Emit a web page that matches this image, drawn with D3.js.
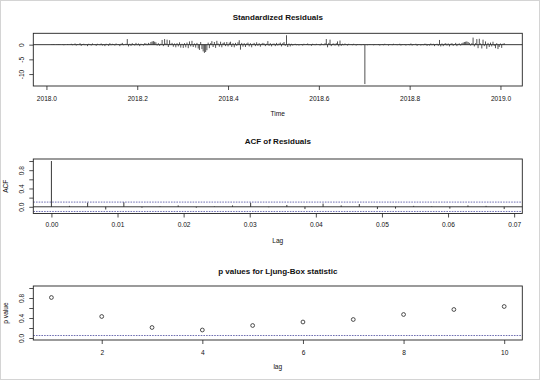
<!DOCTYPE html>
<html>
<head>
<meta charset="utf-8">
<title>tsdiag</title>
<script src="https://cdnjs.cloudflare.com/ajax/libs/d3/7.8.5/d3.min.js"></script>
<style>
  html, body { margin: 0; padding: 0; background: #fff; }
  svg { display: block; font-family: "Liberation Sans", Arial, sans-serif; }
  .axis text { fill: #111; }
  .axis line { stroke: #222; stroke-width: 0.8; }
</style>
</head>
<body>
<script>
// standardized residuals, daily series (frequency 365) starting at day 4 of 2018
var resStartDay = 4;
var resFreq = 365;
var stdres = [
  0.1,-0.1,0.2,0,-0.1,0.1,0.2,-0.1,0,0.1,-0.2,0.1,0,0.2,-0.1,0.1,
  0.3,-0.2,0.1,0.4,-0.3,0.2,-0.1,0.5,-0.4,0.2,0.3,-0.2,0.1,-0.5,0.3,0.2,-0.3,0.4,-0.1,0.2,-0.4,0.3,0.1,-0.2,
  0.4,-0.3,0.2,-0.5,0.3,0.1,-0.4,0.5,-0.2,0.3,0.2,-0.3,0.4,-0.1,0.2,-0.5,0.3,0.6,-0.2,0.1,0.3,
  1.9,
  -0.6,0.3,-0.4,0.5,0.2,-0.3,0.6,-0.2,0.4,-0.5,0.3,0.2,-0.3,0.5,
  0.4,-0.2,0.6,0.3,0.9,1.1,1.2,1.0,0.8,-0.3,0.5,-0.4,0.3,
  1.6,-0.5,1.9,0.4,1.7,-0.8,1.5,0.3,
  0.6,-0.7,0.4,-0.9,0.5,-0.6,0.8,-1.0,0.3,
  -1.1,0.5,-0.9,0.7,-1.2,1.1,-0.6,1.3,-0.8,0.4,-1.0,0.6,-1.3,
  -1.8,0.9,-1.5,-2.3,-2.8,-2.5,-1.9,0.7,-1.2,0.5,
  1.2,-0.8,0.9,-1.1,1.3,0.4,-0.7,1.0,-0.9,0.6,0.8,-0.5,
  0.9,-0.6,0.7,1.0,-0.8,0.5,-0.9,0.6,-0.4,0.8,
  1.5,-1.7,
  0.6,-0.7,0.5,-0.8,0.4,0.7,-0.6,0.5,-0.9,0.3,0.6,-0.5,0.8,-0.4,0.5,-0.7,0.3,0.6,
  0.4,-0.5,0.3,1.2,-0.4,0.5,-0.6,0.3,0.4,-0.5,0.6,-0.3,0.4,0.7,-0.6,0.5,0.9,-0.4,
  3.2,
  -0.8,0.4,-0.6,0.3,-0.3,0.2,0.3,-0.2,0.2,-0.3,0.1,
  0.2,-0.3,0.3,-0.1,0.2,0.4,-0.2,0.1,-0.4,0.3,0.2,-0.2,0.3,-0.1,0.2,-0.3,0.4,0.1,-0.2,0.5,
  1.9,-0.9,0.6,1.7,-0.5,0.3,
  0.4,-0.3,0.5,1.1,-0.6,1.4,-0.4,0.3,-0.2,0.4,
  0.2,-0.3,0.3,-0.1,0.2,-0.2,0.3,0.1,-0.3,0.2,-0.1,0.2,-0.2,0.1,0.2,
  -13.4,
  0.1,-0.2,0.1,0.2,-0.1,0.1,-0.2,0.2,0.1,-0.1,0.2,-0.3,0.1,0.2,-0.2,0.3,-0.1,0.1,-0.3,0.2,
  0.1,-0.2,0.3,-0.1,0.2,-0.2,0.1,0.3,-0.3,0.2,-0.1,0.2,-0.3,0.1,0.2,-0.2,0.4,-0.3,0.2,-0.1,
  0.3,-0.4,0.2,0.1,-0.3,0.2,-0.2,0.3,
  0.3,-0.4,0.2,-0.3,0.4,-0.2,0.3,-0.5,0.2,0.3,-0.4,
  1.6,
  -0.6,0.4,-0.5,0.3,0.5,-0.3,0.4,-0.6,0.3,0.5,-0.4,0.2,0.6,-0.5,0.3,0.4,-0.3,0.5,0.7,0.9,1.0,
  1.1,0.9,0.6,-0.3,0.5,
  2.4,
  -0.6,0.5,1.9,-1.2,2.0,0.4,-1.3,1.7,-0.5,1.1,-1.4,0.6,-0.8,
  0.7,-0.6,1.0,-0.4,-1.2,0.5,-1.5,-0.8,0.4,-1.1,0.3,0.5
];
var timeTicks = [2018.0, 2018.2, 2018.4, 2018.6, 2018.8, 2019.0];
var resTicks = [0, -5, -10];

// ACF of residuals, lags 0..25 (in years)
var acfVals = [1, 0.02, 0.09, -0.06, 0.10, -0.02, 0.01, 0.03, -0.02, 0.01, 0.03, 0.09, -0.01,
  0.04, -0.05, 0.07, 0.03, 0.06, -0.05, -0.04, 0.02, 0.01, -0.04, 0.03, 0.02, -0.05];
var lagTicks = [0, 0.01, 0.02, 0.03, 0.04, 0.05, 0.06, 0.07];
var acfTicks = [0, 0.2, 0.4, 0.6, 0.8, 1.0];
var acfLabels = [0, 0.4, 0.8];

// Ljung-Box p values, lags 1..10
var pLags = [1, 2, 3, 4, 5, 6, 7, 8, 9, 10];
var pVals = [0.81, 0.43, 0.21, 0.16, 0.25, 0.32, 0.37, 0.47, 0.57, 0.63];
var pTicks = [0, 0.2, 0.4, 0.6, 0.8, 1.0];
var pLabels = [0, 0.4, 0.8];
var pxTicks = [2, 4, 6, 8, 10];

var W = 540, H = 380;
var left = 33.3, right = 522.3;
var fs = 6.6;   // tick / axis label size
var fsMain = 8; // panel titles

// R style axis range: data range extended by 4% on each side
function rpad(lo, hi) {
  var d = (hi - lo) * 0.04;
  return [lo - d, hi + d];
}

var svg = d3.select('body').append('svg')
  .attr('width', W)
  .attr('height', H);

svg.append('rect')
  .attr('x', 0.5).attr('y', 0.5)
  .attr('width', W - 1).attr('height', H - 1)
  .attr('fill', '#fff')
  .attr('stroke', '#d4d4d4');

function panel(opt) {
  var x = d3.scaleLinear().domain(opt.xd).range([left, right]);
  var y = d3.scaleLinear().domain(opt.yd).range([opt.bottom, opt.top]);
  var g = svg.append('g');

  var xa = g.append('g')
    .attr('class', 'axis')
    .attr('transform', 'translate(0,' + opt.bottom + ')')
    .call(d3.axisBottom(x).tickValues(opt.xt).tickFormat(opt.xf).tickSize(4).tickPadding(opt.xpad));
  xa.select('.domain').remove();
  xa.selectAll('text').attr('font-size', fs);

  var ya = g.append('g')
    .attr('class', 'axis')
    .attr('transform', 'translate(' + left + ',0)')
    .call(d3.axisLeft(y).tickValues(opt.yt).tickSize(4)
      .tickFormat(function(d) { return opt.yl.indexOf(d) >= 0 ? opt.yf(d) : ''; }));
  ya.select('.domain').remove();
  ya.selectAll('text')
    .attr('font-size', fs)
    .attr('transform', 'rotate(-90)')
    .attr('x', 0).attr('y', -9.6).attr('dy', 0)
    .attr('text-anchor', 'middle');

  svg.append('text')
    .attr('x', (left + right) / 2).attr('y', opt.titleY)
    .attr('text-anchor', 'middle')
    .attr('font-size', fsMain).attr('font-weight', 'bold')
    .attr('fill', '#111')
    .text(opt.title);

  svg.append('text')
    .attr('x', (left + right) / 2).attr('y', opt.xlabY)
    .attr('text-anchor', 'middle')
    .attr('font-size', fs).attr('fill', '#111')
    .text(opt.xlab);

  if (opt.ylab) {
    svg.append('text')
      .attr('transform', 'translate(7.5,' + ((opt.top + opt.bottom) / 2) + ') rotate(-90)')
      .attr('text-anchor', 'middle')
      .attr('font-size', fs).attr('fill', '#111')
      .text(opt.ylab);
  }

  return { x: x, y: y, g: g, top: opt.top, bottom: opt.bottom };
}

function box(p) {
  p.g.append('rect')
    .attr('x', left).attr('y', p.top)
    .attr('width', right - left).attr('height', p.bottom - p.top)
    .attr('fill', 'none')
    .attr('stroke', '#222')
    .attr('stroke-width', 0.9);
}

// --- panel 1: standardized residuals
var times = stdres.map(function(v, i) { return 2018 + (resStartDay + i) / resFreq; });
var p1 = panel({
  xd: rpad(d3.min(times), d3.max(times)),
  yd: rpad(d3.min(stdres), d3.max(stdres)),
  top: 33.3, bottom: 86,
  xt: timeTicks, xf: d3.format('.1f'), xpad: 6.5,
  yt: resTicks, yl: resTicks, yf: function(d) { return String(d); },
  title: 'Standardized Residuals', titleY: 19.5,
  xlab: 'Time', xlabY: 116
});
p1.g.selectAll('.res')
  .data(stdres)
  .enter().append('line')
  .attr('x1', function(d, i) { return p1.x(times[i]); })
  .attr('x2', function(d, i) { return p1.x(times[i]); })
  .attr('y1', p1.y(0))
  .attr('y2', function(d) { return p1.y(d); })
  .attr('stroke', '#333')
  .attr('stroke-width', 0.85);
p1.g.append('line')
  .attr('x1', left).attr('x2', right)
  .attr('y1', p1.y(0)).attr('y2', p1.y(0))
  .attr('stroke', '#222').attr('stroke-width', 0.9);
box(p1);

// --- panel 2: ACF of residuals
var n = stdres.length;
var ci = 1.96 / Math.sqrt(n);
var lags = acfVals.map(function(v, i) { return i / resFreq; });
var p2 = panel({
  xd: rpad(0, d3.max(lags)),
  yd: rpad(Math.min(d3.min(acfVals), -ci), 1),
  top: 159, bottom: 213.5,
  xt: lagTicks, xf: d3.format('.2f'), xpad: 5,
  yt: acfTicks, yl: acfLabels, yf: d3.format('.1f'),
  title: 'ACF of Residuals', titleY: 144,
  xlab: 'Lag', xlabY: 243, ylab: 'ACF'
});
p2.g.selectAll('.acf')
  .data(acfVals)
  .enter().append('line')
  .attr('x1', function(d, i) { return p2.x(lags[i]); })
  .attr('x2', function(d, i) { return p2.x(lags[i]); })
  .attr('y1', p2.y(0))
  .attr('y2', function(d) { return p2.y(d); })
  .attr('stroke', '#222')
  .attr('stroke-width', 0.9);
p2.g.append('line')
  .attr('x1', left).attr('x2', right)
  .attr('y1', p2.y(0)).attr('y2', p2.y(0))
  .attr('stroke', '#222').attr('stroke-width', 0.9);
p2.g.selectAll('.ci')
  .data([ci, -ci])
  .enter().append('line')
  .attr('x1', left).attr('x2', right)
  .attr('y1', function(d) { return p2.y(d); })
  .attr('y2', function(d) { return p2.y(d); })
  .attr('stroke', '#4a4a9e')
  .attr('stroke-width', 0.8)
  .attr('stroke-dasharray', '1.6,1.1');
box(p2);

// --- panel 3: Ljung-Box p values
var p3 = panel({
  xd: rpad(1, 10),
  yd: rpad(0, 1),
  top: 286, bottom: 340,
  xt: pxTicks, xf: d3.format('d'), xpad: 6,
  yt: pTicks, yl: pLabels, yf: d3.format('.1f'),
  title: 'p values for Ljung-Box statistic', titleY: 274,
  xlab: 'lag', xlabY: 369, ylab: 'p value'
});
p3.g.append('line')
  .attr('x1', left).attr('x2', right)
  .attr('y1', p3.y(0.05)).attr('y2', p3.y(0.05))
  .attr('stroke', '#4a4a9e')
  .attr('stroke-width', 0.8)
  .attr('stroke-dasharray', '1.6,1.1');
p3.g.selectAll('.pt')
  .data(pVals)
  .enter().append('circle')
  .attr('cx', function(d, i) { return p3.x(pLags[i]); })
  .attr('cy', function(d) { return p3.y(d); })
  .attr('r', 1.9)
  .attr('fill', 'none')
  .attr('stroke', '#222')
  .attr('stroke-width', 0.8);
box(p3);
</script>
</body>
</html>
